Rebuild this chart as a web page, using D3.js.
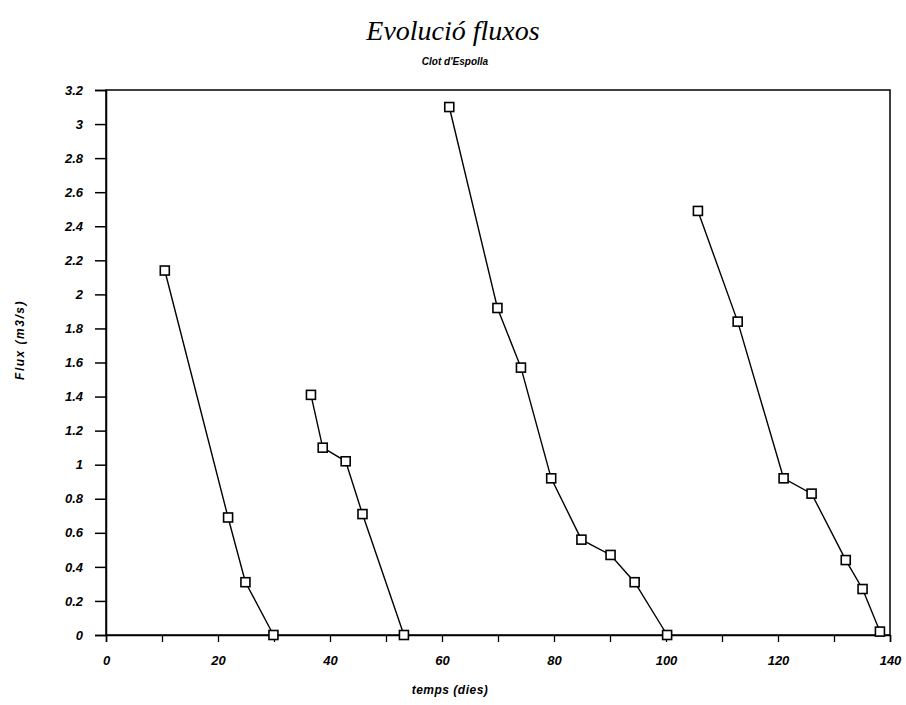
<!DOCTYPE html>
<html>
<head>
<meta charset="utf-8">
<script src="https://cdn.jsdelivr.net/npm/d3@7"></script>
<style>
  body { margin: 0; background: #fff; }
  .tick-lbl { font-family: "Liberation Sans", Arial, sans-serif; font-style: italic; font-weight: bold; font-size: 13px; }
</style>
</head>
<body>
<div id="chart"></div>
<script>
// days and flow (m3/s), one array per recession
var s1_dies = [10.5, 21.8, 24.9, 29.9];
var s1_flux = [2.14, 0.69, 0.31, 0.0];
var s2_dies = [36.6, 38.7, 42.8, 45.8, 53.2];
var s2_flux = [1.41, 1.10, 1.02, 0.71, 0.0];
var s3_dies = [61.3, 69.9, 74.1, 79.5, 84.9, 90.1, 94.4, 100.2];
var s3_flux = [3.10, 1.92, 1.57, 0.92, 0.56, 0.47, 0.31, 0.0];
var s4_dies = [105.7, 112.8, 121.0, 126.0, 132.1, 135.1, 138.2];
var s4_flux = [2.49, 1.84, 0.92, 0.83, 0.44, 0.27, 0.02];

var y_ticks = [0, 0.2, 0.4, 0.6, 0.8, 1, 1.2, 1.4, 1.6, 1.8, 2, 2.2, 2.4, 2.6, 2.8, 3, 3.2];
var x_ticks = [0, 20, 40, 60, 80, 100, 120, 140];
var x_minor = [0, 10, 20, 30, 40, 50, 60, 70, 80, 90, 100, 110, 120, 130, 140];

var title_txt = "Evolució fluxos";
var subtitle_txt = "Clot d'Espolla";
var xlab_txt = "temps (dies)";
var ylab_txt = "Flux (m3/s)";

var w = 906, h = 705;
// plot area (pixels)
var p_left = 106, p_right = 890, p_top = 90, p_bottom = 635;

var svg = d3.select("#chart").append("svg")
            .attr("width", w).attr("height", h);

var x = d3.scaleLinear().domain([0, 140]).range([p_left, p_right]);
var y = d3.scaleLinear().domain([0, 3.2]).range([p_bottom, p_top]);

// frame
svg.append("rect")
   .attr("x", p_left).attr("y", p_top)
   .attr("width", p_right - p_left).attr("height", p_bottom - p_top)
   .attr("fill", "none").attr("stroke", "black").attr("stroke-width", 1.5);

// y axis: ticks out to the left, labels right aligned
var yAxis = d3.axisLeft(y).tickValues(y_ticks).tickSize(11).tickPadding(12)
              .tickFormat(function(d){ return d3.format("~g")(d); });
var gy = svg.append("g").attr("transform", "translate(" + p_left + ",0)").call(yAxis);
gy.select(".domain").attr("stroke-width", 1.5);
gy.selectAll(".tick line").attr("stroke-width", 1.5);
gy.selectAll(".tick text").attr("class", "tick-lbl").attr("fill", "black");

// x axis: minor ticks every 10, labels every 20
var gxm = svg.append("g").attr("transform", "translate(0," + p_bottom + ")")
             .call(d3.axisBottom(x).tickValues(x_minor).tickSize(7).tickFormat(""));
gxm.select(".domain").attr("stroke-width", 1.5);
gxm.selectAll(".tick line").attr("stroke-width", 1.3);

var gx = svg.append("g").attr("transform", "translate(0," + p_bottom + ")")
            .call(d3.axisBottom(x).tickValues(x_ticks).tickSize(0).tickPadding(21));
gx.select(".domain").remove();
gx.selectAll(".tick text").attr("class", "tick-lbl").attr("fill", "black");

// the four recession curves
var series = [
  {dies: s1_dies, flux: s1_flux},
  {dies: s2_dies, flux: s2_flux},
  {dies: s3_dies, flux: s3_flux},
  {dies: s4_dies, flux: s4_flux}
];

var line = d3.line()
             .x(function(d){ return x(d[0]); })
             .y(function(d){ return y(d[1]); });

series.forEach(function(s){
  var pts = d3.zip(s.dies, s.flux);
  svg.append("path")
     .datum(pts)
     .attr("d", line)
     .attr("fill", "none").attr("stroke", "black").attr("stroke-width", 1.4);

  var sq = 9;
  svg.selectAll(null).data(pts).enter().append("rect")
     .attr("x", function(d){ return x(d[0]) - sq/2; })
     .attr("y", function(d){ return y(d[1]) - sq/2; })
     .attr("width", sq).attr("height", sq)
     .attr("fill", "white").attr("stroke", "black").attr("stroke-width", 1.6);
});

// titles
svg.append("text")
   .attr("x", 453).attr("y", 40)
   .attr("text-anchor", "middle")
   .style("font-family", "'Liberation Serif', 'Times New Roman', serif")
   .style("font-style", "italic").style("font-size", "28px")
   .text(title_txt);

svg.append("text")
   .attr("x", 455).attr("y", 65)
   .attr("text-anchor", "middle")
   .style("font-family", "'Liberation Sans', Arial, sans-serif")
   .style("font-style", "italic").style("font-weight", "bold").style("font-size", "10px")
   .text(subtitle_txt);

svg.append("text")
   .attr("x", 450).attr("y", 694)
   .attr("text-anchor", "middle")
   .style("font-family", "'Liberation Sans', Arial, sans-serif")
   .style("font-style", "italic").style("font-weight", "bold").style("font-size", "12px")
   .style("letter-spacing", "0.5px")
   .text(xlab_txt);

svg.append("text")
   .attr("transform", "translate(24,340) rotate(-90)")
   .attr("text-anchor", "middle")
   .style("font-family", "'Liberation Sans', Arial, sans-serif")
   .style("font-style", "italic").style("font-weight", "bold").style("font-size", "12px")
   .style("letter-spacing", "1.5px")
   .text(ylab_txt);
</script>
</body>
</html>
